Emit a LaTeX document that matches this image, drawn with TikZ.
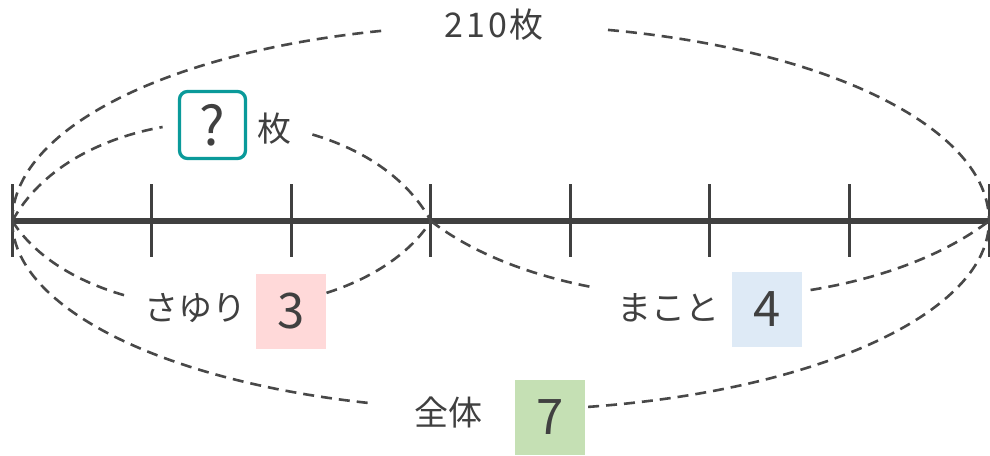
\documentclass[tikz,border=0pt]{standalone}
\usepackage{fontspec}
\setmainfont{Noto Sans CJK JP}
\definecolor{ink}{HTML}{404040}
\definecolor{dashgray}{HTML}{484848}
\definecolor{tealc}{HTML}{0A9A9A}
\definecolor{pinkbox}{HTML}{FFD9D9}
\definecolor{bluebox}{HTML}{DEEAF6}
\definecolor{greenbox}{HTML}{C5E0B4}
\begin{document}
\begin{tikzpicture}[x=1pt,y=-1pt,
  lbl/.style={font=\fontsize{34}{40}\selectfont, text=ink, inner sep=0pt},
  numbox/.style={minimum width=70pt, minimum height=75pt, inner sep=0pt, font=\fontsize{49}{52}\selectfont, text=ink},
  qbox/.style={draw=tealc, line width=3.3pt, rounded corners=8pt, fill=white, minimum width=66pt, minimum height=67pt, inner sep=0pt, font=\fontsize{54}{56}\selectfont, text=ink},
  dline/.style={draw=dashgray, line width=2.6pt, dash pattern=on 11pt off 7pt},
  axisline/.style={draw=ink, line width=5.5pt},
  tickline/.style={draw=ink, line width=3pt}]
\useasboundingbox (0,0) rectangle (990,455);
% number line
\foreach \i in {0,...,7} \coordinate (t\i) at ({12.3+139.53*\i},221);
\draw[axisline] (t0) -- (t7);
\foreach \i in {0,...,7} \draw[tickline] ([yshift=37pt]t\i) -- ([yshift=-36pt]t\i);
% gap end points
\coordinate (a1) at (381.9,30.8);
\coordinate (a2) at (608,29.9);
\coordinate (b1) at (162.6,127.0);
\coordinate (b2) at (312.4,134.5);
\coordinate (c1) at (125.9,295.7);
\coordinate (c2) at (326.5,292.9);
\coordinate (d1) at (596.2,287.9);
\coordinate (d2) at (810.6,290.0);
\coordinate (e1) at (367.9,402.9);
\coordinate (e2) at (588.1,406.9);
% dashed braces
\draw[dline] (t0) .. controls (12,130.5) and (164.6,52.4) .. (a1);
\draw[dline] (a2) .. controls (830.2,50.0) and (989,128.9) .. (t7);
\draw[dline] (t0) .. controls (40.5,169.6) and (98.2,138.6) .. (b1);
\draw[dline] (b2) .. controls (363.5,149.6) and (407.3,178.1) .. (t3);
\draw[dline] (t0) .. controls (34.9,256.6) and (76.8,281.8) .. (c1);
\draw[dline] (c2) .. controls (371.5,278.5) and (409.5,254.2) .. (t3);
\draw[dline] (t3) .. controls (472.6,253.3) and (531.3,275.9) .. (d1);
\draw[dline] (d2) .. controls (880.3,278.7) and (943.8,255.4) .. (t7);
\draw[dline] (t0) .. controls (12,305.1) and (157.4,379.9) .. (e1);
\draw[dline] (e2) .. controls (819.7,390.3) and (989,311.7) .. (t7);
% labels
\node[lbl] (total) at (494,25) {2\kern3pt 1\kern3pt 0\kern2pt 枚};
\node[qbox] (q) at (212.5,125) {?};
\node[lbl] (qunit) at (274,129) {枚};
\node[lbl] (sayuri) at (195,308) {さゆり};
\node[numbox, fill=pinkbox] (n3) at (291,311.5) {3};
\node[lbl] (makoto) at (668,308) {まこと};
\node[numbox, fill=bluebox] (n4) at (767,309) {4};
\node[lbl] (zentai) at (448,413) {全体};
\node[numbox, fill=greenbox] (n7) at (550,417.5) {7};
\end{tikzpicture}
\end{document}
